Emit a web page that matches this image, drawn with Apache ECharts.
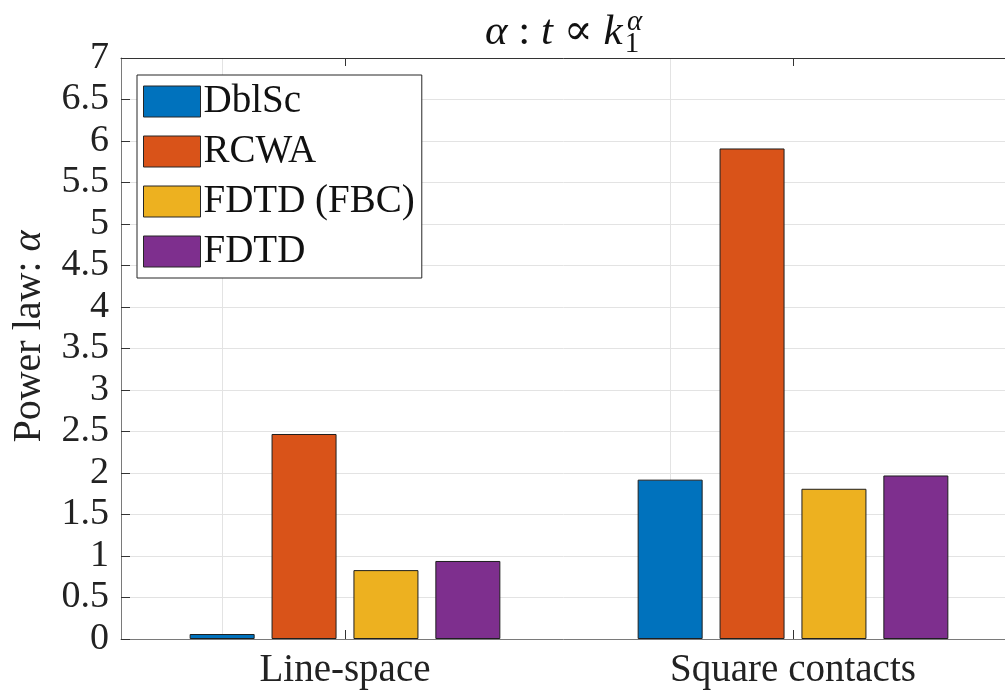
<!DOCTYPE html>
<html>
<head>
<meta charset="utf-8">
<script src="https://cdn.jsdelivr.net/npm/echarts@6/dist/echarts.min.js"></script>
<style>
html,body{margin:0;padding:0;background:#fff;}
#c{width:1005px;height:692px;}
</style>
</head>
<body>
<div id="c"></div>
<script>
const categories = ['Line-space', 'Square contacts'];
const seriesNames = ['DblSc', 'RCWA', 'FDTD (FBC)', 'FDTD'];
const dblsc = [0.06, 1.92];
const rcwa = [2.47, 5.91];
const fdtdFbc = [0.83, 1.81];
const fdtd = [0.94, 1.97];
const colors = ['#0072BD', '#D95319', '#EDB120', '#7E2F8E'];

const FONT = '"Liberation Serif", "DejaVu Serif", serif';
const allData = [dblsc, rcwa, fdtdFbc, fdtd];

const chart = echarts.init(document.getElementById('c'), null, {renderer: 'canvas'});

const series = allData.map((d, i) => {
  const s = {
    name: seriesNames[i],
    type: 'bar',
    data: d,
    barWidth: 65,
    barGap: '26%',
    itemStyle: {color: colors[i], borderColor: '#1f1f1f', borderWidth: 1},
    emphasis: {disabled: true}
  };
  if (i === 0) {
    s.markLine = {
      silent: true,
      symbol: 'none',
      animation: false,
      label: {show: false},
      lineStyle: {color: '#e3e3e3', width: 1, type: 'solid'},
      data: categories.map(c => ({xAxis: c})),
      z: 0
    };
  }
  return s;
});

const base = {fontFamily: FONT, color: '#111', fontWeight: 'normal', lineHeight: 52};

chart.setOption({
  animation: false,
  color: colors,
  title: {
    text: '{i|α}{m| : }{i|t}{m| ∝ }{i|k}{sub|1}',
    left: 480,
    textAlign: 'left',
    top: 2,
    textStyle: {
      fontWeight: 'normal',
      rich: {
        m: Object.assign({}, base, {fontSize: 43, verticalAlign: 'middle'}),
        i: Object.assign({}, base, {fontSize: 43, fontStyle: 'italic', verticalAlign: 'middle'}),
        sub: Object.assign({}, base, {fontSize: 29, verticalAlign: 'bottom', padding: [0, 0, 0, 2]})
      }
    }
  },
  graphic: [{
    type: 'text',
    left: 627,
    top: 8,
    style: {text: 'α', fontFamily: FONT, fontSize: 29, fontStyle: 'italic', fill: '#111'}
  }],
  legend: {
    data: seriesNames,
    orient: 'vertical',
    left: 137,
    top: 75,
    padding: [7, 7, 7, 6],
    itemWidth: 57,
    itemHeight: 31,
    itemGap: 11,
    selectedMode: false,
    backgroundColor: '#fff',
    borderColor: '#262626',
    borderWidth: 1,
    icon: 'rect',
    itemStyle: {borderColor: '#262626', borderWidth: 1},
    textStyle: {fontFamily: FONT, fontSize: 39, color: '#111', lineHeight: 31, padding: [0, 0, 0, -2]}
  },
  grid: {left: 121, top: 58, width: 896, bottom: 53, outerBoundsMode: 'none', containLabel: false},
  xAxis: [
    {
      type: 'category',
      data: categories,
      position: 'bottom',
      axisLine: {lineStyle: {color: '#7a7a7a', width: 1}},
      axisTick: {show: true, alignWithLabel: true, inside: true, length: 9, lineStyle: {color: '#333'}},
      axisLabel: {fontFamily: FONT, fontSize: 39, color: '#222', margin: 12},
      splitLine: {show: false}
    },
    {
      type: 'category',
      data: categories,
      position: 'top',
      axisLine: {lineStyle: {color: '#333', width: 1}},
      axisTick: {show: true, alignWithLabel: true, inside: true, length: 8, lineStyle: {color: '#333'}},
      axisLabel: {show: false},
      splitLine: {show: false}
    }
  ],
  yAxis: {
    type: 'value',
    min: 0,
    max: 7,
    interval: 0.5,
    name: '{n|Power law: }{a|α}',
    nameLocation: 'middle',
    nameGap: 72,
    nameTextStyle: {
      fontFamily: FONT, fontSize: 40, color: '#222', padding: [0, 0, 0, 24],
      rich: {
        n: {fontFamily: FONT, fontSize: 40, color: '#222'},
        a: {fontFamily: FONT, fontSize: 40, color: '#222', fontStyle: 'italic'}
      }
    },
    axisLine: {show: true, lineStyle: {color: '#7a7a7a', width: 1}},
    axisTick: {show: true, inside: true, length: 9, lineStyle: {color: '#333'}},
    axisLabel: {fontFamily: FONT, fontSize: 38, color: '#222', margin: 12},
    splitLine: {show: true, lineStyle: {color: '#e3e3e3', width: 1}}
  },
  series: series
});
</script>
</body>
</html>
